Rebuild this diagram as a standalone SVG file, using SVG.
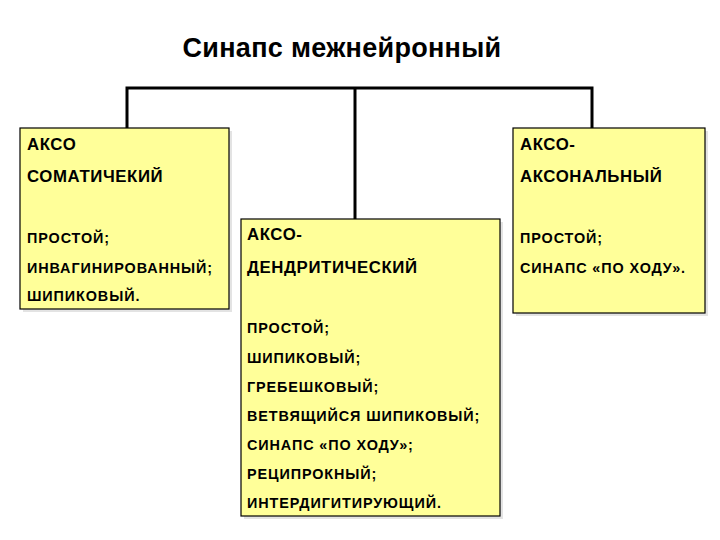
<svg xmlns="http://www.w3.org/2000/svg" width="720" height="540" viewBox="0 0 720 540">
<style>
.box{fill:#ffff99;stroke:#000;stroke-width:1.2}
.sh{fill:#c8c8c8;opacity:.5}
text{font-family:"Liberation Sans",Arial,sans-serif;fill:#000}
.h{font-size:16.8px;font-weight:bold;letter-spacing:0.6px}
.i{font-size:14.4px;font-weight:bold;letter-spacing:0.9px}
.c{fill:none;stroke:#000;stroke-width:3}
</style>
<rect width="720" height="540" fill="#fff"/>
<text x="342" y="57" text-anchor="middle" style="font-size:27px;font-weight:bold;letter-spacing:0.3px">Синапс межнейронный</text>
<g id="connectors">
<polyline class="c" points="127,128 127,88 592,88 592,128"/>
<line class="c" x1="355" y1="88" x2="355" y2="219"/>
</g>
<g id="akso-somat">
<rect class="sh" x="23" y="131" width="209" height="181"/>
<rect class="box" x="20" y="128" width="209" height="181"/>
<text class="h" x="27" y="150">АКСО</text>
<text class="h" x="27" y="182">СОМАТИЧЕКИЙ</text>
<text class="i" x="27" y="243">ПРОСТОЙ;</text>
<text class="i" x="27" y="273">ИНВАГИНИРОВАННЫЙ;</text>
<text class="i" x="27" y="301">ШИПИКОВЫЙ.</text>
</g>
<g id="akso-dendr">
<rect class="sh" x="244" y="222" width="259" height="297"/>
<rect class="box" x="241" y="219" width="259" height="297"/>
<text class="h" x="247" y="240">АКСО-</text>
<text class="h" x="247" y="273">ДЕНДРИТИЧЕСКИЙ</text>
<text class="i" x="247" y="333">ПРОСТОЙ;</text>
<text class="i" x="247" y="363">ШИПИКОВЫЙ;</text>
<text class="i" x="247" y="392">ГРЕБЕШКОВЫЙ;</text>
<text class="i" x="247" y="421">ВЕТВЯЩИЙСЯ ШИПИКОВЫЙ;</text>
<text class="i" x="247" y="450">СИНАПС «ПО ХОДУ»;</text>
<text class="i" x="247" y="479">РЕЦИПРОКНЫЙ;</text>
<text class="i" x="247" y="508">ИНТЕРДИГИТИРУЮЩИЙ.</text>
</g>
<g id="akso-akson">
<rect class="sh" x="516" y="131" width="192" height="185"/>
<rect class="box" x="513" y="128" width="192" height="185"/>
<text class="h" x="520" y="150">АКСО-</text>
<text class="h" x="520" y="182">АКСОНАЛЬНЫЙ</text>
<text class="i" x="520" y="243">ПРОСТОЙ;</text>
<text class="i" x="520" y="273">СИНАПС «ПО ХОДУ».</text>
</g>
</svg>
